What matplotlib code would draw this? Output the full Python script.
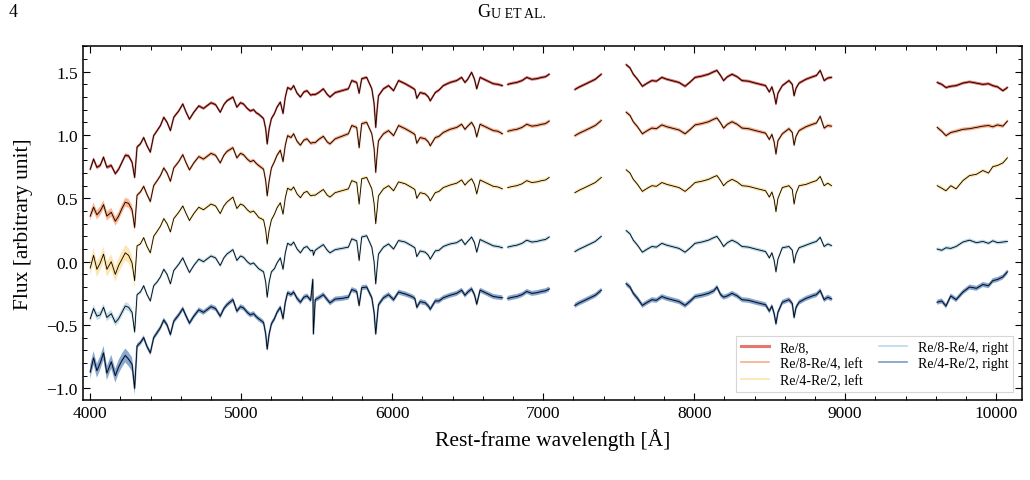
import numpy as np
import matplotlib
matplotlib.use("Agg")
import matplotlib.pyplot as plt
from matplotlib.lines import Line2D
from matplotlib.ticker import MultipleLocator

nan = np.nan

# rest-frame wavelength grid (Angstrom); nan rows in the fluxes break the line at the chip gaps
wave = [4000, 4022, 4044, 4066, 4088, 4110, 4139, 4166, 4188, 4210,
        4232, 4254, 4277, 4294, 4310, 4332, 4354, 4376, 4398, 4420,
        4443, 4465, 4487, 4509, 4531, 4553, 4586, 4613, 4635, 4657,
        4686, 4719, 4750, 4772, 4800, 4830, 4861, 4885, 4905, 4945,
        4971, 4995, 5015, 5040, 5060, 5082, 5100, 5115, 5148, 5162,
        5172, 5185, 5200, 5220, 5237, 5259, 5277, 5292, 5307, 5330,
        5347, 5370, 5392, 5415, 5436, 5460, 5474, 5478, 5490, 5513,
        5544, 5570, 5588, 5622, 5666, 5710, 5732, 5765, 5781, 5798,
        5831, 5865, 5880, 5891, 5900, 5909, 5942, 5976, 6009, 6042,
        6086, 6130, 6150, 6163, 6185, 6219, 6240, 6252, 6285, 6310,
        6338, 6383, 6427, 6460, 6482, 6500, 6526, 6545, 6560, 6582,
        6626, 6670, 6700, 6730, 6748,
        6765, 6800, 6825, 6860, 6891, 6925, 6958, 6990, 7015, 7040,
        7125, 7210, 7240, 7276, 7310, 7345, 7385, 7470,
        7550, 7575, 7597, 7625, 7657, 7690, 7720, 7750, 7786, 7820,
        7853, 7900, 7940, 7975, 8006, 8050, 8095, 8130, 8151, 8175,
        8195, 8220, 8251, 8285, 8317, 8360, 8406, 8440, 8473, 8498,
        8515, 8530, 8542, 8555, 8584, 8628, 8650, 8662, 8675, 8695,
        8740, 8784, 8810, 8835, 8861, 8885, 8910, 9260,
        9610, 9640, 9668, 9700, 9735, 9780, 9824, 9870, 9912, 9950,
        9978, 10010, 10045, 10075]

flux_re8 = [0.73, 0.81, 0.745, 0.76, 0.825, 0.745, 0.76, 0.695, 0.73, 0.785,
            0.84, 0.835, 0.785, 0.665, 0.905, 0.93, 0.98, 0.915, 0.865, 0.995,
            1.035, 1.075, 1.14, 1.10, 1.035, 1.14, 1.19, 1.245, 1.18, 1.125,
            1.18, 1.23, 1.21, 1.23, 1.255, 1.24, 1.18, 1.24, 1.27, 1.30,
            1.22, 1.255, 1.245, 1.21, 1.19, 1.20, 1.175, 1.165, 1.13, 1.05,
            0.93, 1.05, 1.13, 1.17, 1.22, 1.26, 1.17, 1.30, 1.375, 1.36,
            1.39, 1.33, 1.30, 1.34, 1.35, 1.315, 1.32, 1.32, 1.32, 1.335,
            1.365, 1.32, 1.30, 1.335, 1.35, 1.365, 1.43, 1.415, 1.33, 1.445,
            1.455, 1.365, 1.25, 1.06, 1.20, 1.31, 1.365, 1.39, 1.35, 1.43,
            1.405, 1.375, 1.36, 1.29, 1.335, 1.325, 1.30, 1.27, 1.335, 1.355,
            1.39, 1.415, 1.43, 1.455, 1.415, 1.44, 1.495, 1.44, 1.365, 1.455,
            1.43, 1.405, 1.40, 1.39, nan,
            1.40, 1.41, 1.415, 1.43, 1.455, 1.44, 1.445, 1.455, 1.46, 1.48,
            nan, 1.36, 1.38, 1.40, 1.42, 1.44, 1.48, nan,
            1.555, 1.53, 1.48, 1.44, 1.385, 1.41, 1.43, 1.425, 1.455, 1.44,
            1.43, 1.415, 1.385, 1.42, 1.455, 1.465, 1.48, 1.50, 1.51, 1.47,
            1.43, 1.46, 1.48, 1.46, 1.43, 1.425, 1.41, 1.40, 1.39, 1.34,
            1.38, 1.32, 1.245, 1.33, 1.39, 1.43, 1.40, 1.31, 1.37, 1.41,
            1.44, 1.46, 1.47, 1.51, 1.43, 1.45, 1.455, nan,
            1.415, 1.40, 1.375, 1.385, 1.39, 1.41, 1.42, 1.41, 1.40, 1.405,
            1.39, 1.38, 1.35, 1.375]

flux_left1 = [0.36, 0.43, 0.37, 0.40, 0.45, 0.36, 0.39, 0.32, 0.36, 0.42,
              0.47, 0.46, 0.41, 0.27, 0.525, 0.55, 0.595, 0.53, 0.475, 0.60,
              0.64, 0.68, 0.74, 0.70, 0.635, 0.74, 0.79, 0.845, 0.78, 0.725,
              0.78, 0.83, 0.81, 0.83, 0.855, 0.84, 0.78, 0.84, 0.87, 0.90,
              0.82, 0.855, 0.845, 0.81, 0.79, 0.80, 0.775, 0.76, 0.73, 0.64,
              0.52, 0.64, 0.74, 0.79, 0.84, 0.88, 0.79, 0.92, 0.995, 0.98,
              1.01, 0.95, 0.92, 0.96, 0.97, 0.935, 0.94, 0.94, 0.94, 0.965,
              0.99, 0.945, 0.93, 0.97, 0.99, 1.01, 1.075, 1.06, 0.90, 1.09,
              1.10, 1.01, 0.895, 0.705, 0.845, 0.955, 1.01, 1.035, 0.995, 1.075,
              1.05, 1.02, 1.005, 0.935, 0.98, 0.97, 0.945, 0.915, 0.98, 0.99,
              1.02, 1.045, 1.06, 1.085, 1.045, 1.07, 1.10, 1.06, 0.985, 1.085,
              1.06, 1.035, 1.03, 1.01, nan,
              1.03, 1.04, 1.045, 1.06, 1.085, 1.07, 1.075, 1.085, 1.09, 1.11,
              nan, 0.995, 1.015, 1.035, 1.055, 1.075, 1.115, nan,
              1.18, 1.155, 1.105, 1.065, 1.01, 1.035, 1.055, 1.05, 1.08, 1.065,
              1.055, 1.04, 1.01, 1.045, 1.08, 1.09, 1.105, 1.125, 1.135, 1.095,
              1.055, 1.085, 1.105, 1.085, 1.055, 1.05, 1.035, 1.025, 1.015, 0.965,
              1.005, 0.945, 0.85, 0.955, 1.01, 1.05, 1.02, 0.92, 0.99, 1.035,
              1.065, 1.085, 1.095, 1.148, 1.055, 1.075, 1.07, nan,
              1.06, 1.03, 0.995, 1.02, 1.03, 1.045, 1.05, 1.06, 1.07, 1.075,
              1.065, 1.08, 1.07, 1.11]

flux_left2 = [-0.05, 0.05, -0.06, -0.01, 0.06, -0.06, 0.00, -0.10, -0.03, 0.02,
              0.07, 0.05, -0.01, -0.15, 0.125, 0.14, 0.19, 0.12, 0.07, 0.20,
              0.24, 0.28, 0.34, 0.30, 0.235, 0.34, 0.39, 0.44, 0.38, 0.325,
              0.38, 0.43, 0.41, 0.43, 0.455, 0.44, 0.38, 0.44, 0.47, 0.51,
              0.42, 0.455, 0.445, 0.41, 0.39, 0.40, 0.375, 0.35, 0.33, 0.25,
              0.14, 0.25, 0.33, 0.375, 0.425, 0.465, 0.375, 0.505, 0.58, 0.565,
              0.59, 0.535, 0.505, 0.545, 0.555, 0.52, 0.525, 0.525, 0.525, 0.545,
              0.57, 0.525, 0.51, 0.545, 0.56, 0.575, 0.64, 0.625, 0.455, 0.655,
              0.665, 0.575, 0.46, 0.30, 0.41, 0.52, 0.575, 0.60, 0.56, 0.63,
              0.615, 0.585, 0.57, 0.50, 0.545, 0.535, 0.51, 0.48, 0.545, 0.555,
              0.585, 0.605, 0.62, 0.645, 0.605, 0.63, 0.655, 0.61, 0.535, 0.645,
              0.62, 0.595, 0.59, 0.575, nan,
              0.585, 0.595, 0.60, 0.615, 0.64, 0.625, 0.63, 0.64, 0.645, 0.665,
              nan, 0.545, 0.565, 0.585, 0.605, 0.625, 0.665, nan,
              0.725, 0.70, 0.65, 0.61, 0.555, 0.58, 0.60, 0.595, 0.625, 0.61,
              0.60, 0.585, 0.555, 0.59, 0.625, 0.635, 0.65, 0.67, 0.68, 0.64,
              0.60, 0.63, 0.65, 0.63, 0.60, 0.595, 0.58, 0.57, 0.56, 0.51,
              0.55, 0.49, 0.395, 0.50, 0.585, 0.60, 0.57, 0.455, 0.54, 0.60,
              0.61, 0.63, 0.64, 0.673, 0.60, 0.62, 0.60, nan,
              0.60, 0.58, 0.56, 0.60, 0.575, 0.64, 0.68, 0.69, 0.72, 0.70,
              0.75, 0.76, 0.78, 0.82]

flux_right1 = [-0.45, -0.37, -0.43, -0.42, -0.36, -0.44, -0.41, -0.48, -0.45, -0.40,
               -0.35, -0.36, -0.40, -0.555, -0.26, -0.24, -0.19, -0.26, -0.31, -0.19,
               -0.16, -0.12, -0.06, -0.10, -0.175, -0.07, -0.02, 0.03, -0.03, -0.085,
               -0.03, 0.02, 0.00, 0.02, 0.045, 0.03, -0.03, 0.03, 0.06, 0.095,
               0.01, 0.045, 0.035, 0.00, -0.02, -0.01, -0.035, -0.055, -0.08, -0.16,
               -0.28, -0.16, -0.08, -0.055, -0.01, 0.03, -0.06, 0.07, 0.145, 0.13,
               0.155, 0.10, 0.07, 0.11, 0.12, 0.085, 0.09, 0.05, 0.09, 0.11,
               0.135, 0.09, 0.07, 0.095, 0.105, 0.115, 0.18, 0.165, 0.01, 0.195,
               0.205, 0.115, 0.00, -0.175, -0.05, 0.06, 0.115, 0.14, 0.10, 0.167,
               0.155, 0.125, 0.11, 0.04, 0.085, 0.075, 0.05, 0.02, 0.085, 0.09,
               0.12, 0.14, 0.15, 0.175, 0.135, 0.16, 0.195, 0.15, 0.075, 0.175,
               0.15, 0.125, 0.12, 0.11, nan,
               0.115, 0.125, 0.13, 0.145, 0.17, 0.155, 0.16, 0.17, 0.175, 0.195,
               nan, 0.08, 0.10, 0.12, 0.14, 0.16, 0.20, nan,
               0.245, 0.22, 0.17, 0.13, 0.075, 0.10, 0.12, 0.115, 0.145, 0.13,
               0.12, 0.105, 0.075, 0.11, 0.145, 0.155, 0.17, 0.19, 0.20, 0.16,
               0.12, 0.15, 0.17, 0.15, 0.12, 0.115, 0.10, 0.09, 0.08, 0.03,
               0.07, 0.01, -0.08, 0.02, 0.11, 0.12, 0.09, -0.01, 0.06, 0.11,
               0.13, 0.15, 0.16, 0.193, 0.12, 0.14, 0.127, nan,
               0.10, 0.09, 0.11, 0.105, 0.12, 0.155, 0.17, 0.15, 0.16, 0.145,
               0.165, 0.15, 0.155, 0.16]

flux_right2 = [-0.87, -0.76, -0.86, -0.80, -0.72, -0.88, -0.79, -0.90, -0.83, -0.78,
               -0.74, -0.77, -0.81, -1.00, -0.665, -0.64, -0.60, -0.67, -0.72, -0.60,
               -0.56, -0.52, -0.46, -0.50, -0.575, -0.47, -0.42, -0.37, -0.43, -0.485,
               -0.43, -0.38, -0.40, -0.38, -0.355, -0.37, -0.43, -0.37, -0.34, -0.30,
               -0.39, -0.355, -0.365, -0.40, -0.42, -0.41, -0.435, -0.45, -0.48, -0.57,
               -0.69, -0.57, -0.49, -0.45, -0.40, -0.36, -0.45, -0.32, -0.245, -0.26,
               -0.24, -0.29, -0.32, -0.28, -0.27, -0.305, -0.14, -0.57, -0.30, -0.285,
               -0.26, -0.30, -0.325, -0.295, -0.29, -0.28, -0.22, -0.235, -0.345, -0.205,
               -0.20, -0.285, -0.40, -0.57, -0.45, -0.34, -0.285, -0.26, -0.30, -0.24,
               -0.255, -0.275, -0.29, -0.36, -0.315, -0.325, -0.35, -0.375, -0.31, -0.31,
               -0.285, -0.265, -0.25, -0.225, -0.265, -0.24, -0.215, -0.26, -0.335, -0.225,
               -0.25, -0.275, -0.28, -0.285, nan,
               -0.29, -0.28, -0.275, -0.26, -0.235, -0.25, -0.245, -0.235, -0.23, -0.215,
               nan, -0.345, -0.325, -0.305, -0.285, -0.265, -0.225, nan,
               -0.175, -0.20, -0.25, -0.29, -0.345, -0.32, -0.30, -0.305, -0.275, -0.29,
               -0.30, -0.315, -0.345, -0.31, -0.275, -0.265, -0.25, -0.23, -0.20, -0.26,
               -0.28, -0.27, -0.25, -0.27, -0.30, -0.305, -0.32, -0.33, -0.34, -0.39,
               -0.35, -0.41, -0.49, -0.40, -0.32, -0.30, -0.33, -0.44, -0.36, -0.32,
               -0.29, -0.27, -0.26, -0.228, -0.30, -0.28, -0.294, nan,
               -0.32, -0.31, -0.35, -0.27, -0.30, -0.24, -0.20, -0.21, -0.18, -0.19,
               -0.15, -0.14, -0.12, -0.08]

labels = ["Re/8,", "Re/8-Re/4, left", "Re/4-Re/2, left",
          "Re/8-Re/4, right", "Re/4-Re/2, right"]
colors = ["#e0544a", "#f8976a", "#fddc94", "#a9d0e6", "#5a83bd"]
# 1-sigma half widths: below 4300 A and above
err_blue = [0.015, 0.035, 0.06, 0.03, 0.055]
err_red = [0.012, 0.015, 0.015, 0.015, 0.02]

plt.rcParams["font.family"] = ["Liberation Serif", "DejaVu Serif"]

fig = plt.figure(figsize=(10.30, 4.81), dpi=100)
ax = fig.add_axes([0.0803, 0.1663, 0.9117, 0.736])

w = np.array(wave, dtype=float)
series = [flux_re8, flux_left1, flux_left2, flux_right1, flux_right2]
for flux, col, eb, er in zip(series, colors, err_blue, err_red):
    f = np.array(flux, dtype=float)
    err = np.where(w < 4300, eb, er)
    ax.fill_between(w, f - err, f + err, color=col, alpha=0.7, lw=0)
    ax.plot(w, f, color=col, lw=1.4, alpha=0.7)
    ax.plot(w, f, color="black", lw=0.6)

ax.set_xlim(3950, 10170)
ax.set_ylim(-1.092, 1.703)
ax.xaxis.set_major_locator(MultipleLocator(1000))
ax.xaxis.set_minor_locator(MultipleLocator(200))
ax.yaxis.set_major_locator(MultipleLocator(0.5))
ax.yaxis.set_minor_locator(MultipleLocator(0.1))
ax.tick_params(which="both", direction="in", top=True, right=True, labelsize=12.5)
ax.tick_params(which="major", length=5, width=0.8)
ax.tick_params(which="minor", length=2.8, width=0.7)
for sp in ax.spines.values():
    sp.set_linewidth(1.1)

ax.set_xlabel("Rest-frame wavelength [Å]", fontsize=15.5, labelpad=5)
ax.set_ylabel("Flux [arbitrary unit]", fontsize=15.5, labelpad=10)

handles = [Line2D([0], [0], color=c, lw=lw, alpha=0.8)
           for c, lw in zip(colors, [2.2, 1.2, 1.2, 1.2, 1.2])]
leg = ax.legend(handles, labels, loc="lower right", ncol=2, fontsize=10,
                frameon=True, fancybox=False, edgecolor="#cccccc",
                borderaxespad=0.6, handlelength=2.0, columnspacing=1.2,
                labelspacing=0.25, borderpad=0.35)
leg.get_frame().set_linewidth(0.8)

# page header
fig.text(0.008, 0.973, "4", fontsize=13, ha="left", va="center")
fig.text(0.4765, 0.973, "G", fontsize=13, ha="right", va="center")
fig.text(0.4765, 0.970, "U ET AL.", fontsize=10, ha="left", va="center")

fig.savefig("out.png", dpi=100)
